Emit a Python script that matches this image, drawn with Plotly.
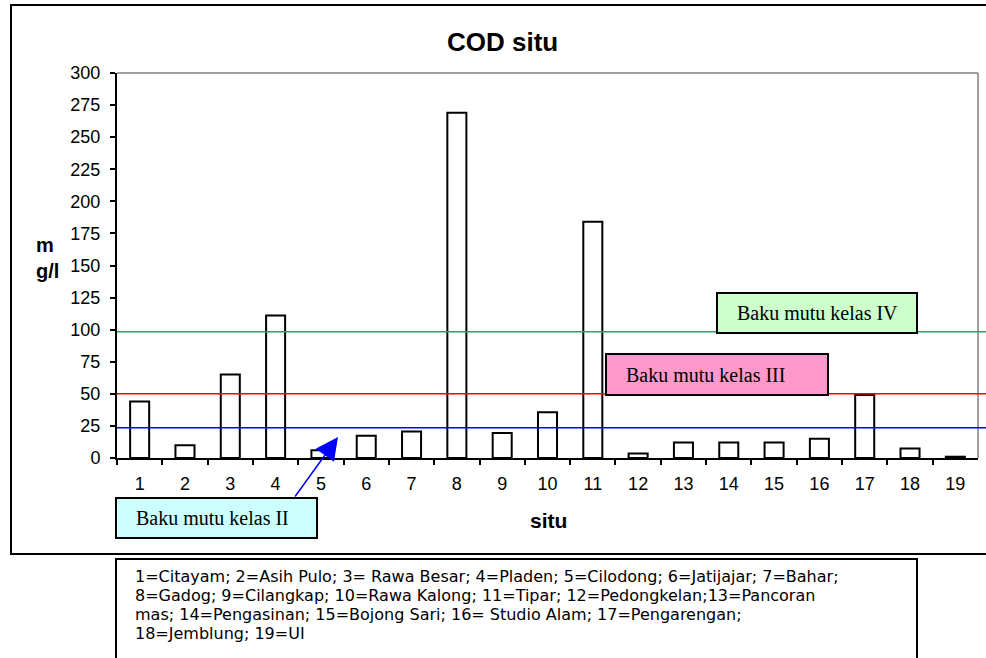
import plotly.graph_objects as go

# COD measurements per situ (mg/l)
situ_ids = [str(i) for i in range(1, 20)]
cod_values = [44, 10, 65, 111, 6, 17.3, 20.6, 269, 19.5, 35.6, 184, 3.6, 12, 12, 12, 15, 49, 7.5, 1]

# Water quality standard thresholds (baku mutu)
threshold_names = ["Baku mutu kelas II", "Baku mutu kelas III", "Baku mutu kelas IV"]
threshold_values = [23.6, 50, 98.4]
threshold_colors = ["#0000FF", "#FF0000", "#339966"]

y_ticks = list(range(0, 301, 25))

legend_lines = [
    "1=Citayam; 2=Asih Pulo; 3= Rawa Besar; 4=Pladen; 5=Cilodong; 6=Jatijajar; 7=Bahar;",
    "8=Gadog; 9=Cilangkap; 10=Rawa Kalong; 11=Tipar; 12=Pedongkelan;13=Pancoran",
    "mas; 14=Pengasinan; 15=Bojong Sari; 16= Studio Alam; 17=Pengarengan;",
    "18=Jemblung; 19=UI",
]

W, H = 986, 658
SANS = "Liberation Sans, Arial, sans-serif"
NOTE = "DejaVu Sans, Verdana, sans-serif"
SERIF = "Liberation Serif, Times New Roman, serif"


def px(x):
    return x / W


def py(y):
    return 1 - y / H


fig = go.Figure()
fig.add_trace(go.Bar(
    x=situ_ids, y=cod_values, width=0.42,
    marker=dict(color="white", line=dict(color="black", width=2)),
    hoverinfo="x+y", showlegend=False,
))

plot_l, plot_r, plot_t, plot_b = 117, 978, 73, 458

shapes = []
# outer chart frame
shapes.append(dict(type="rect", xref="paper", yref="paper",
                   x0=px(11), x1=px(1000), y0=py(554), y1=py(5),
                   line=dict(color="black", width=2), fillcolor="rgba(0,0,0,0)", layer="below"))
# plot area top and right border
shapes.append(dict(type="line", xref="paper", yref="paper",
                   x0=px(plot_l), x1=px(plot_r), y0=py(plot_t), y1=py(plot_t),
                   line=dict(color="#808080", width=1.5)))
shapes.append(dict(type="line", xref="paper", yref="paper",
                   x0=px(plot_r), x1=px(plot_r), y0=py(plot_t), y1=py(plot_b),
                   line=dict(color="#808080", width=1.5)))
# threshold lines
for val, col in zip(threshold_values, threshold_colors):
    shapes.append(dict(type="line", xref="paper", yref="y",
                       x0=px(plot_l), x1=1.0, y0=val, y1=val,
                       line=dict(color=col, width=1.5), layer="above"))

# label boxes for thresholds: (x0, y0, x1, y1, fill)
box_specs = [
    (116, 498, 317, 538, "#CCFFFF"),
    (606, 354, 828, 395, "#FF99CC"),
    (717, 293, 917, 333, "#CCFFCC"),
]
annotations = []
for name, (x0, y0, x1, y1, fill) in zip(threshold_names, box_specs):
    shapes.append(dict(type="rect", xref="paper", yref="paper",
                       x0=px(x0), x1=px(x1), y0=py(y1), y1=py(y0),
                       line=dict(color="black", width=2), fillcolor=fill, layer="above"))
    annotations.append(dict(xref="paper", yref="paper", x=px(x0 + 18), y=py((y0 + y1) / 2),
                            xanchor="left", yanchor="middle", showarrow=False,
                            text=name, font=dict(family=SERIF, size=20, color="black")))

# arrow from the kelas II box to its line
annotations.append(dict(xref="paper", yref="paper", x=px(338), y=py(437),
                        ax=294 - 338, ay=498 - 437, axref="pixel", ayref="pixel",
                        showarrow=True, arrowhead=2, arrowsize=3, arrowwidth=1.5,
                        arrowcolor="#0000FF", text=""))

# footnote box with site names
shapes.append(dict(type="rect", xref="paper", yref="paper",
                   x0=px(116), x1=px(917), y0=py(680), y1=py(559),
                   line=dict(color="black", width=2), fillcolor="white", layer="above"))
for i, line in enumerate(legend_lines):
    annotations.append(dict(xref="paper", yref="paper", x=px(133), y=py(576 + 19 * i),
                            xanchor="left", yanchor="middle", align="left", showarrow=False,
                            text=line, font=dict(family=NOTE, size=16, color="black")))

# titles
annotations.append(dict(xref="paper", yref="paper", x=px(502), y=py(42),
                        xanchor="center", yanchor="middle", showarrow=False,
                        text="<b>COD situ</b>", font=dict(family=SANS, size=26, color="black")))
annotations.append(dict(xref="paper", yref="paper", x=px(548), y=py(520),
                        xanchor="center", yanchor="middle", showarrow=False,
                        text="<b>situ</b>", font=dict(family=SANS, size=21, color="black")))
annotations.append(dict(xref="paper", yref="paper", x=px(34), y=py(258),
                        xanchor="left", yanchor="middle", align="left", showarrow=False,
                        text="<b>m<br>g/l</b>", font=dict(family=SANS, size=20, color="black")))

fig.update_layout(
    width=W, height=H,
    margin=dict(l=0, r=0, t=0, b=0, pad=0, autoexpand=False),
    paper_bgcolor="white", plot_bgcolor="white",
    shapes=shapes, annotations=annotations,
    xaxis=dict(domain=[px(plot_l), px(plot_r)], type="category", automargin=False,
               tickson="boundaries", ticks="outside", ticklen=5, tickwidth=1.5,
               tickcolor="black", showline=True, linecolor="black", linewidth=2,
               showgrid=False, zeroline=False, ticklabelstandoff=8,
               tickfont=dict(family=SANS, size=18, color="black")),
    yaxis=dict(domain=[py(plot_b), py(plot_t)], range=[0, 300], tickvals=y_ticks,
               automargin=False,
               ticks="outside", ticklen=5, tickwidth=1.5, tickcolor="black",
               showline=True, linecolor="black", linewidth=2,
               showgrid=False, zeroline=False, ticklabelstandoff=6,
               tickfont=dict(family=SANS, size=18, color="black")),
    bargap=0.58,
)

fig.write_html("out.html")
